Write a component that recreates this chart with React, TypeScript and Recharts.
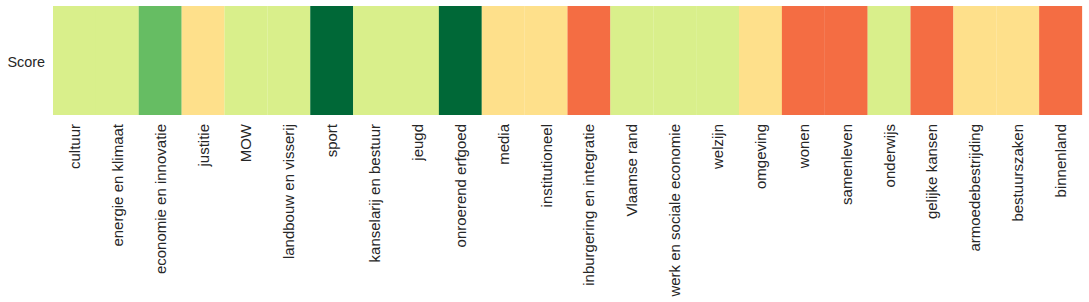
import { BarChart, Bar, XAxis, YAxis, Cell } from 'recharts'

// departments along the x axis
const departments = [
  'cultuur',
  'energie en klimaat',
  'economie en innovatie',
  'justitie',
  'MOW',
  'landbouw en visserij',
  'sport',
  'kanselarij en bestuur',
  'jeugd',
  'onroerend erfgoed',
  'media',
  'institutioneel',
  'inburgering en integratie',
  'Vlaamse rand',
  'werk en sociale economie',
  'welzijn',
  'omgeving',
  'wonen',
  'samenleven',
  'onderwijs',
  'gelijke kansen',
  'armoedebestrijding',
  'bestuurszaken',
  'binnenland',
]

// score per department (1 = worst, 5 = best)
const scores = [3, 3, 4, 2, 3, 3, 5, 3, 3, 5, 2, 2, 1, 3, 3, 3, 2, 1, 1, 3, 1, 2, 2, 1]

const rowLabels = ['Score']

// RdYlGn steps for score 1..5
const palette = ['#f46d43', '#fee08b', '#d9ef8b', '#66bd63', '#006837']

const FONT = '"Liberation Sans", Arial, sans-serif'
const TEXT = '#262626'

const data = departments.map((name, i) => ({ name, score: scores[i], row: 1 }))

const XTick = (props: any) => {
  const { x, y, payload } = props
  return (
    <text
      x={0}
      y={0}
      transform={`translate(${x},${y + 1}) rotate(-90)`}
      textAnchor="end"
      dominantBaseline="central"
      fontSize={15}
      fontFamily={FONT}
      fill={TEXT}
    >
      {payload.value}
    </text>
  )
}

const YTick = (props: any) => {
  const { x, y } = props
  return (
    <text
      x={x}
      y={y + 1.5}
      textAnchor="end"
      dominantBaseline="central"
      fontSize={14.4}
      fontFamily={FONT}
      fill={TEXT}
    >
      {rowLabels[0]}
    </text>
  )
}

export default function App() {
  return (
    <div style={{ position: 'absolute', left: 0, top: 0, width: 1089, height: 302, background: '#fff' }}>
      <BarChart
        width={1089}
        height={302}
        data={data}
        margin={{ top: 6, right: 7, bottom: 0, left: 0 }}
        barCategoryGap={0}
        barGap={0}
      >
        <XAxis
          dataKey="name"
          interval={0}
          height={187}
          axisLine={false}
          tickLine={false}
          tick={<XTick />}
        />
        <YAxis
          type="number"
          domain={[0, 1]}
          ticks={[0.5]}
          width={53}
          axisLine={false}
          tickLine={false}
          tick={<YTick />}
        />
        <Bar dataKey="row" isAnimationActive={false}>
          {data.map((d, i) => (
            <Cell key={i} fill={palette[d.score - 1]} />
          ))}
        </Bar>
      </BarChart>
    </div>
  )
}
